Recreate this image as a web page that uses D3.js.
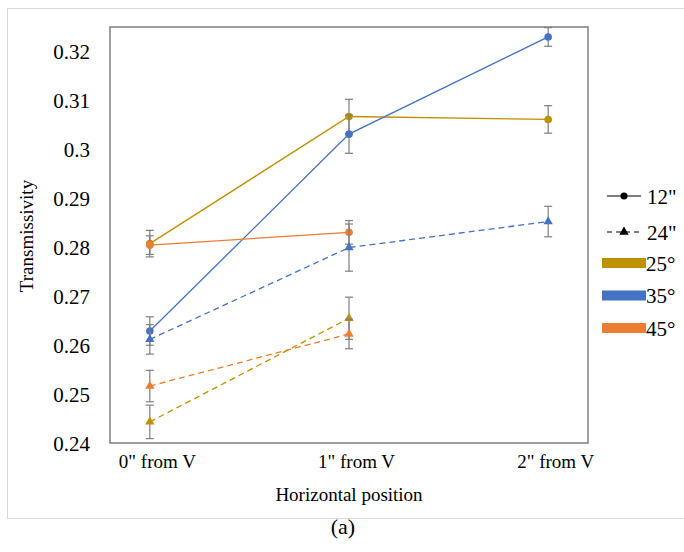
<!DOCTYPE html>
<html>
<head>
<meta charset="utf-8">
<script src="https://cdn.jsdelivr.net/npm/d3@7"></script>
<style>
  body { margin: 0; background: #fff; }
  svg { display: block; }
  svg text { font-family: "Liberation Serif", "Times New Roman", serif !important; fill: #000; }
</style>
</head>
<body>
<svg id="chart" width="684" height="552"></svg>
<script>
// categories and values
const categories = ['0" from V', '1" from V', '2" from V'];
const yTicks = [0.24, 0.25, 0.26, 0.27, 0.28, 0.29, 0.3, 0.31, 0.32];

const t25_12 = [0.2806, 0.3065, 0.3059];
const e25_12 = [0.0027, 0.0035, 0.0028];
const t35_12 = [0.2628, 0.3029, 0.3227];
const e35_12 = [0.0029, 0.0039, 0.0019];
const t45_12 = [0.2803, 0.2829, null];
const e45_12 = [0.0019, 0.0024, null];
const t25_24 = [0.2443, 0.2654, null];
const e25_24 = [0.0034, 0.0043, null];
const t35_24 = [0.2611, 0.2798, 0.2851];
const e35_24 = [0.0030, 0.0048, 0.0031];
const t45_24 = [0.2516, 0.2622, null];
const e45_24 = [0.0032, 0.0030, null];

const angleNames = ['25°', '35°', '45°'];
const angleColors = ['#bf9000', '#4472c4', '#ed7d31'];
const distNames = ['12"', '24"'];

const series = [
  { vals: t25_12, err: e25_12, color: angleColors[0], dashed: false },
  { vals: t35_12, err: e35_12, color: angleColors[1], dashed: false },
  { vals: t45_12, err: e45_12, color: angleColors[2], dashed: false },
  { vals: t25_24, err: e25_24, color: angleColors[0], dashed: true },
  { vals: t35_24, err: e35_24, color: angleColors[1], dashed: true },
  { vals: t45_24, err: e45_24, color: angleColors[2], dashed: true }
];

const svg = d3.select('#chart');
const plot = { left: 110, top: 27, right: 588, bottom: 443 };

// outer light border
svg.append('rect')
  .attr('x', 7.5).attr('y', 8.5)
  .attr('width', 690).attr('height', 510)
  .attr('fill', 'none').attr('stroke', '#d9d9d9').attr('stroke-width', 1);

const x = d3.scalePoint()
  .domain(categories)
  .range([plot.left, plot.right])
  .padding(0.2);

const y = d3.scaleLinear()
  .domain([0.24, 0.24 + (plot.bottom - plot.top) / 4910])
  .range([plot.bottom, plot.top]);

// y axis labels
const yAxis = svg.append('g')
  .attr('transform', `translate(${plot.left},0)`)
  .call(d3.axisLeft(y).tickValues(yTicks).tickSize(0).tickPadding(20).tickFormat(d => String(+d.toFixed(2))));
yAxis.select('.domain').remove();
yAxis.attr('font-family', null);
yAxis.selectAll('text').attr('font-size', 21).attr('dy', '0.38em');

// x axis labels
const xAxis = svg.append('g')
  .attr('transform', `translate(0,${plot.bottom})`)
  .call(d3.axisBottom(x).tickSize(0).tickPadding(12));
xAxis.select('.domain').remove();
xAxis.attr('font-family', null);
xAxis.selectAll('text').attr('font-size', 19).attr('dx', 7);

// plot frame
svg.append('rect')
  .attr('x', plot.left).attr('y', plot.top)
  .attr('width', plot.right - plot.left).attr('height', plot.bottom - plot.top)
  .attr('fill', 'none').attr('stroke', '#7f7f7f').attr('stroke-width', 1.5);

const line = d3.line()
  .x(d => x(d.c))
  .y(d => y(d.v));

const tri = d3.symbol().type(d3.symbolTriangle).size(38);

series.forEach(s => {
  const pts = categories.map((c, i) => ({ c, v: s.vals[i], e: s.err[i] })).filter(d => d.v !== null);
  const g = svg.append('g');

  g.append('path')
    .datum(pts)
    .attr('d', line)
    .attr('fill', 'none')
    .attr('stroke', s.color)
    .attr('stroke-width', 1.3)
    .attr('stroke-dasharray', s.dashed ? '6,4' : null);

  // error bars
  const eb = g.selectAll('.eb').data(pts).enter().append('g').attr('stroke', '#7f7f7f').attr('stroke-width', 1.2);
  eb.append('line')
    .attr('x1', d => x(d.c)).attr('x2', d => x(d.c))
    .attr('y1', d => y(d.v - d.e)).attr('y2', d => y(d.v + d.e));
  eb.append('line')
    .attr('x1', d => x(d.c) - 4).attr('x2', d => x(d.c) + 4)
    .attr('y1', d => y(d.v + d.e)).attr('y2', d => y(d.v + d.e));
  eb.append('line')
    .attr('x1', d => x(d.c) - 4).attr('x2', d => x(d.c) + 4)
    .attr('y1', d => y(d.v - d.e)).attr('y2', d => y(d.v - d.e));

  // markers
  if (s.dashed) {
    g.selectAll('.mk').data(pts).enter().append('path')
      .attr('d', tri)
      .attr('transform', d => `translate(${x(d.c)},${y(d.v)})`)
      .attr('fill', s.color);
  } else {
    g.selectAll('.mk').data(pts).enter().append('circle')
      .attr('cx', d => x(d.c)).attr('cy', d => y(d.v))
      .attr('r', 3.8)
      .attr('fill', s.color);
  }
});

// axis titles
svg.append('text')
  .attr('x', 349).attr('y', 501)
  .attr('text-anchor', 'middle')
  .attr('font-size', 19)
  .text('Horizontal position');

svg.append('text')
  .attr('transform', 'translate(33,236) rotate(-90)')
  .attr('text-anchor', 'middle')
  .attr('font-size', 19)
  .text('Transmissivity');

svg.append('text')
  .attr('x', 343).attr('y', 534)
  .attr('text-anchor', 'middle')
  .attr('font-size', 22)
  .text('(a)');

// legend
const leg = svg.append('g');
distNames.forEach((name, i) => {
  const ly = 196 + i * 36;
  leg.append('line')
    .attr('x1', 607).attr('x2', 641).attr('y1', ly).attr('y2', ly)
    .attr('stroke', '#000').attr('stroke-width', 1.2)
    .attr('stroke-dasharray', i === 1 ? '5,4' : null);
  if (i === 0) {
    leg.append('circle').attr('cx', 624).attr('cy', ly).attr('r', 3.5).attr('fill', '#000');
  } else {
    leg.append('path').attr('d', tri).attr('transform', `translate(624,${ly})`).attr('fill', '#000');
  }
  leg.append('text')
    .attr('x', 647).attr('y', ly).attr('dy', '0.36em')
    .attr('font-size', 21)
    .text(name);
});
angleNames.forEach((name, i) => {
  const ly = 263 + i * 32.5;
  leg.append('rect')
    .attr('x', 602).attr('y', ly - 5).attr('width', 44).attr('height', 10)
    .attr('fill', angleColors[i]);
  leg.append('text')
    .attr('x', 646).attr('y', ly).attr('dy', '0.36em')
    .attr('font-size', 21)
    .text(name);
});
</script>
</body>
</html>
